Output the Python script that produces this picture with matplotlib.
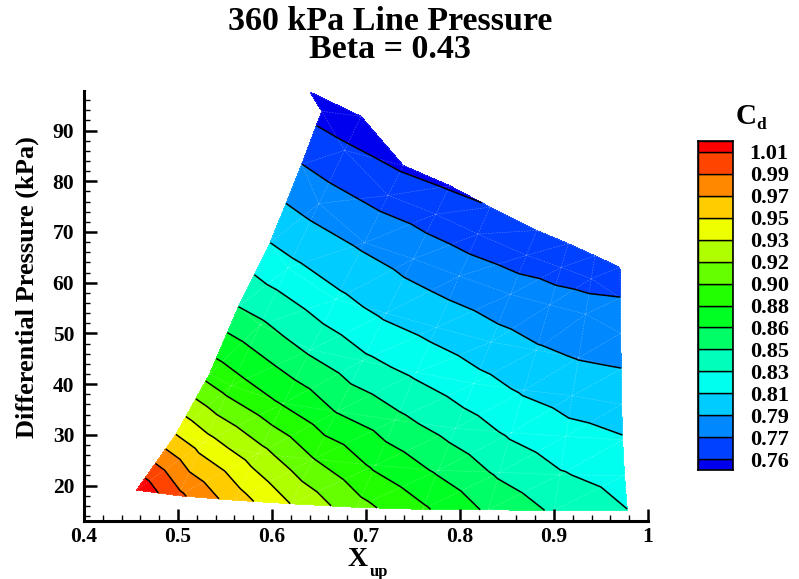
import numpy as np
import matplotlib
matplotlib.use("Agg")
import matplotlib.pyplot as plt
import matplotlib.tri as mtri
from matplotlib.ticker import MultipleLocator, FixedLocator, FixedFormatter

plt.rcParams['font.family'] = ['Liberation Serif', 'DejaVu Serif']
plt.rcParams['font.weight'] = 'bold'

# measured points, one list per sweep (bottom -> top), 9 sweeps x 8 points
xup_cols = [
    [0.456, 0.4975, 0.5337, 0.5641, 0.5979, 0.6316, 0.6529, 0.6404],
    [0.500, 0.5273, 0.5565, 0.5876, 0.6168, 0.6499, 0.6772, 0.6947],
    [0.560, 0.5852, 0.6121, 0.6409, 0.6678, 0.6984, 0.7235, 0.7397],
    [0.620, 0.6437, 0.6691, 0.6962, 0.7216, 0.7504, 0.7742, 0.7894],
    [0.690, 0.7099, 0.7312, 0.7539, 0.7751, 0.7993, 0.8191, 0.8319],
    [0.760, 0.7770, 0.7953, 0.8147, 0.8330, 0.8536, 0.8707, 0.8816],
    [0.830, 0.8419, 0.8547, 0.8683, 0.8811, 0.8956, 0.9075, 0.9152],
    [0.900, 0.9061, 0.9126, 0.9196, 0.9262, 0.9336, 0.9397, 0.9436],
    [0.978, 0.9750, 0.9730, 0.9720, 0.9715, 0.9710, 0.9705, 0.9702],
]
dp_cols = [
    [19.1, 30.0, 42.0, 55.2, 67.8, 83.3, 93.8, 97.6],
    [18.0, 28.5, 39.7, 51.7, 62.9, 75.6, 86.1, 92.8],
    [17.1, 26.3, 36.2, 46.8, 56.7, 67.9, 77.2, 83.1],
    [16.4, 25.2, 34.6, 44.6, 54.0, 64.7, 73.5, 79.1],
    [15.7, 24.0, 32.9, 42.3, 51.2, 61.3, 69.6, 74.9],
    [15.3, 23.0, 31.3, 40.1, 48.3, 57.7, 65.4, 70.3],
    [15.2, 22.6, 30.4, 38.8, 46.7, 55.6, 63.0, 67.7],
    [15.1, 22.1, 29.7, 37.7, 45.2, 53.8, 60.8, 65.3],
    [15.1, 22.0, 29.0, 36.0, 43.0, 50.0, 57.0, 63.0],
]
cd_cols = [
    [1.021, 0.953, 0.8916, 0.8453, 0.8095, 0.7737, 0.749, 0.742],
    [0.9928, 0.9427, 0.8894, 0.8480, 0.8140, 0.7832, 0.7588, 0.743],
    [0.962, 0.9238, 0.8793, 0.8418, 0.8133, 0.7879, 0.7662, 0.753],
    [0.9343, 0.8994, 0.8621, 0.8309, 0.8059, 0.7839, 0.7659, 0.754],
    [0.9056, 0.8775, 0.8498, 0.8238, 0.8024, 0.7819, 0.766, 0.756],
    [0.8838, 0.8603, 0.8371, 0.8153, 0.7978, 0.7808, 0.767, 0.7575],
    [0.8601, 0.8421, 0.8243, 0.8071, 0.7932, 0.7793, 0.7683, 0.761],
    [0.8426, 0.8289, 0.8152, 0.8021, 0.7907, 0.7789, 0.7696, 0.7635],
    [0.8275, 0.8195, 0.8106, 0.8011, 0.7916, 0.7826, 0.7737, 0.766],
]

# contour levels and legend labels
cd_levels = [0.7556, 0.7735, 0.7914, 0.8093, 0.8272, 0.8451, 0.8630, 0.8809,
             0.8988, 0.9167, 0.9346, 0.9525, 0.9704, 0.9883, 1.0062]
cd_labels = ['0.76', '0.77', '0.79', '0.81', '0.83', '0.85', '0.86', '0.88',
             '0.90', '0.92', '0.93', '0.95', '0.97', '0.99', '1.01']
band_colors = ['#0000ee', '#0040ff', '#0088ff', '#00ccff', '#00ffee', '#00ffbb',
               '#00ff66', '#00ff22', '#22ff00', '#66ff00', '#b0ff00', '#eeff00',
               '#ffcc00', '#ff8800', '#ff4400', '#ff0000']

x_ticks = [0.4, 0.5, 0.6, 0.7, 0.8, 0.9, 1.0]
x_ticklabels = ['0.4', '0.5', '0.6', '0.7', '0.8', '0.9', '1']
y_ticks = [20, 30, 40, 50, 60, 70, 80, 90]

W, H = 799, 579
fig = plt.figure(figsize=(W / 100, H / 100), dpi=100)
ax = fig.add_axes([84 / W, 1 - 521 / H, 564 / W, 430 / H])

# structured grid -> triangles
nc, nr = np.array(xup_cols).shape
x = np.array(xup_cols).ravel()
y = np.array(dp_cols).ravel()
z = np.array(cd_cols).ravel()
triangles = []
for i in range(nc - 1):
    for j in range(nr - 1):
        a = i * nr + j
        b = (i + 1) * nr + j
        c = (i + 1) * nr + j + 1
        d = i * nr + j + 1
        triangles += [[a, b, c], [a, c, d]]
tri = mtri.Triangulation(x, y, triangles)

ax.tricontourf(tri, z, levels=cd_levels, colors=band_colors, extend='both')
ax.triplot(tri, color='white', lw=0.4, alpha=0.35, ls=(0, (3, 2)))
ax.tricontour(tri, z, levels=cd_levels, colors='black', linewidths=1.1)

ax.set_xlim(0.4, 1.0)
ax.set_ylim(13.0, 97.8)
ax.spines['top'].set_visible(False)
ax.spines['right'].set_visible(False)
ax.spines['left'].set_linewidth(2.2)
ax.spines['bottom'].set_linewidth(2.2)
ax.xaxis.set_major_locator(FixedLocator(x_ticks))
ax.xaxis.set_major_formatter(FixedFormatter(x_ticklabels))
ax.xaxis.set_minor_locator(MultipleLocator(0.02))
ax.yaxis.set_major_locator(FixedLocator(y_ticks))
ax.yaxis.set_minor_locator(MultipleLocator(2))
ax.tick_params(which='major', direction='in', length=9, width=1.8, labelsize=15.5, pad=7)
ax.tick_params(which='minor', direction='in', length=4.5, width=1.0)
ax.tick_params(axis='x', pad=4)
ax.set_ylabel('Differential Pressure (kPa)', fontsize=19, fontweight='bold')
ax.yaxis.set_label_coords(-0.08, 0.545)

def px(xp, yp):
    return xp / W, 1 - yp / H

fig.text(*px(358, 560), 'X', fontsize=20, fontweight='bold', ha='center', va='center')
fig.text(*px(370, 572), 'up', fontsize=12, fontweight='bold', ha='left', va='center')
fig.text(*px(390, 22), '360 kPa Line Pressure', fontsize=24.5,
         fontweight='bold', ha='center', va='center')
fig.text(*px(390, 50), 'Beta = 0.43', fontsize=24.5,
         fontweight='bold', ha='center', va='center')

# legend bar
cax = fig.add_axes([698 / W, 1 - 470 / H, 35 / W, 329 / H])
bottoms = [-0.5] + list(range(0, 15))
heights = [0.5] + [1] * 14 + [0.5]
cax.bar(0.5, heights, bottom=bottoms, width=1.0, color=band_colors,
        edgecolor='black', linewidth=1.0)
cax.set_xlim(0, 1)
cax.set_ylim(-0.5, 14.5)
cax.set_xticks([])
cax.yaxis.tick_right()
cax.set_yticks(range(len(cd_labels)))
cax.set_yticklabels(cd_labels)
cax.tick_params(axis='y', length=0, labelsize=16, pad=12)
for s in cax.spines.values():
    s.set_linewidth(1.2)
fig.text(*px(746, 116), 'C', fontsize=21, fontweight='bold', ha='center', va='center')
fig.text(*px(756, 125), 'd', fontsize=12.5, fontweight='bold', ha='left', va='center')

fig.savefig('out.png', dpi=100)
